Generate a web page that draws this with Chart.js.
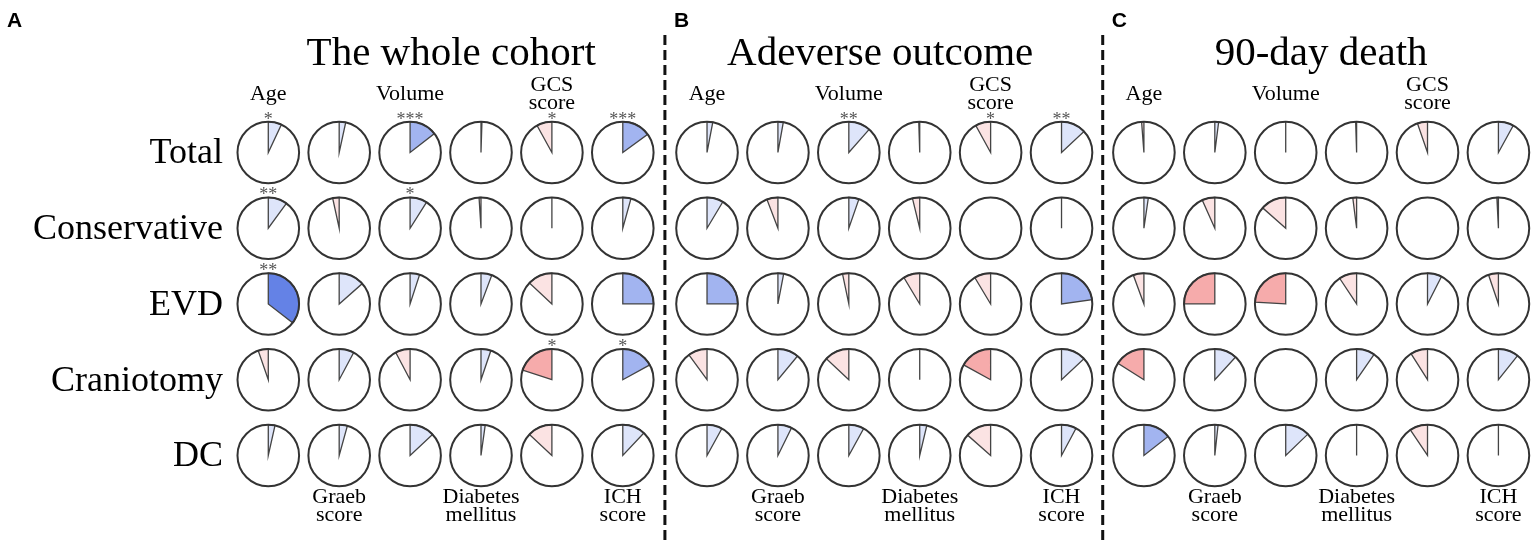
<!DOCTYPE html>
<html>
<head>
  <title>Correlation pies by surgery group</title>
  <script src="https://cdn.jsdelivr.net/npm/chart.js@4.4.0/dist/chart.umd.min.js"></script>
  <style>
    body { margin: 0; background: #fff; }
  </style>
</head>
<body>
  <canvas id="pieChart" width="1535" height="545"></canvas>

  <script>
    const rows = ['Total', 'Conservative', 'EVD', 'Craniotomy', 'DC'];
    const topLabels = [['Age'], null, ['Volume'], null, ['GCS', 'score'], null];
    const bottomLabels = [null, ['Graeb', 'score'], null, ['Diabetes', 'mellitus'], null, ['ICH', 'score']];
    const panelTitles = ['The whole cohort', 'Adeverse outcome', '90-day death'];
    const panelLetters = ['A', 'B', 'C'];

    // correlation values, rows x (Age, Graeb, Volume, Diabetes, GCS, ICH); null = not shown
    const cohortR = [
      [0.07, 0.034, 0.145, 0.005, -0.08, 0.15],
      [0.10, -0.034, 0.09, -0.01, 0, 0.043],
      [0.355, 0.135, 0.05, 0.057, -0.13, 0.25],
      [-0.053, 0.078, -0.077, 0.052, -0.2, 0.17],
      [0.035, 0.043, 0.13, 0.022, -0.13, 0.12]
    ];
    const adverseR = [
      [0.03, 0.028, 0.115, -0.005, -0.08, 0.13],
      [0.086, -0.058, 0.053, -0.038, null, 0],
      [0.25, 0.03, -0.033, -0.086, -0.086, 0.228],
      [-0.10, 0.11, -0.13, 0, -0.17, 0.13],
      [0.08, 0.073, 0.08, 0.037, -0.135, 0.078]
    ];
    const deathR = [
      [-0.012, 0.02, 0, -0.005, -0.053, 0.08],
      [0.023, -0.067, -0.135, -0.02, null, -0.008],
      [-0.056, -0.25, -0.24, -0.093, 0.075, -0.052],
      [-0.16, 0.118, null, 0.096, -0.09, 0.107],
      [0.144, 0.017, 0.128, 0, -0.094, 0]
    ];

    // number of significance stars
    const cohortSig = [
      [1, 0, 3, 0, 1, 3],
      [2, 0, 1, 0, 0, 0],
      [2, 0, 0, 0, 0, 0],
      [0, 0, 0, 0, 1, 1],
      [0, 0, 0, 0, 0, 0]
    ];
    const adverseSig = [
      [0, 0, 2, 0, 1, 2],
      [0, 0, 0, 0, 0, 0],
      [0, 0, 0, 0, 0, 0],
      [0, 0, 0, 0, 0, 0],
      [0, 0, 0, 0, 0, 0]
    ];
    const deathSig = [
      [0, 0, 0, 0, 0, 0],
      [0, 0, 0, 0, 0, 0],
      [0, 0, 0, 0, 0, 0],
      [0, 0, 0, 0, 0, 0],
      [0, 0, 0, 0, 0, 0]
    ];

    const panels = [cohortR, adverseR, deathR];
    const panelSig = [cohortSig, adverseSig, deathSig];
    const panelOffset = [0, 6.188, 12.35];   // first column of each panel on the x scale
    const titleX = [2.58, 8.63, 14.85];

    const serif = "'Liberation Serif', 'Times New Roman', serif";
    const PIE_R = 30.8;

    function pieColor(v) {
      const a = Math.abs(v);
      if (v >= 0) {
        if (a < 0.14) return '#dee5fa';
        if (a < 0.3) return '#a2b4f0';
        return '#6482e6';
      }
      if (a < 0.14) return '#fbe3e3';
      if (a < 0.3) return '#f6abab';
      return '#e86a6a';
    }

    const datasets = panels.map((mat, p) => ({
      label: panelTitles[p],
      data: mat.flatMap((row, r) => row.map((v, c) => ({
        x: panelOffset[p] + c, y: r, v: v, sig: panelSig[p][r][c]
      }))),
      pointRadius: 0,
      pointHoverRadius: 0
    }));

    const piePlugin = {
      id: 'pies',
      afterDatasetsDraw(chart) {
        const ctx = chart.ctx;
        ctx.save();
        chart.data.datasets.forEach((ds, di) => {
          chart.getDatasetMeta(di).data.forEach((pt, i) => {
            const d = ds.data[i];
            const x = pt.x, y = pt.y;
            ctx.beginPath();
            ctx.arc(x, y, PIE_R, 0, 2 * Math.PI);
            ctx.fillStyle = '#fff';
            ctx.fill();
            if (d.v !== null) {
              const start = -Math.PI / 2;
              const ang = d.v * 2 * Math.PI;
              ctx.beginPath();
              ctx.moveTo(x, y);
              if (ang >= 0) ctx.arc(x, y, PIE_R, start, start + ang);
              else ctx.arc(x, y, PIE_R, start + ang, start);
              ctx.closePath();
              ctx.fillStyle = pieColor(d.v);
              ctx.fill();
              ctx.strokeStyle = '#444';
              ctx.lineWidth = 1.3;
              ctx.stroke();
            }
            ctx.beginPath();
            ctx.arc(x, y, PIE_R, 0, 2 * Math.PI);
            ctx.strokeStyle = '#333';
            ctx.lineWidth = 2;
            ctx.stroke();
            if (d.sig > 0) {
              ctx.fillStyle = '#555';
              ctx.font = '18px ' + serif;
              ctx.textAlign = 'center';
              ctx.textBaseline = 'alphabetic';
              ctx.fillText('*'.repeat(d.sig), x, y - PIE_R + 3);
            }
          });
        });
        ctx.restore();
      },
      afterDraw(chart) {
        const ctx = chart.ctx;
        const xs = chart.scales.x, ys = chart.scales.y;
        ctx.save();
        ctx.fillStyle = '#000';

        // panel separators
        ctx.strokeStyle = '#111';
        ctx.lineWidth = 3;
        ctx.setLineDash([10, 5]);
        [1, 2].forEach(p => {
          const xv = (panelOffset[p - 1] + 5 + panelOffset[p]) / 2;
          const px = xs.getPixelForValue(xv);
          ctx.beginPath();
          ctx.moveTo(px, 35);
          ctx.lineTo(px, 545);
          ctx.stroke();
        });
        ctx.setLineDash([]);

        panels.forEach((mat, p) => {
          // letter
          ctx.font = "bold 21px 'Liberation Sans', Arial, sans-serif";
          ctx.textAlign = 'left';
          ctx.textBaseline = 'alphabetic';
          const lx = p === 0 ? 7 : xs.getPixelForValue((panelOffset[p - 1] + 5 + panelOffset[p]) / 2) + 9;
          ctx.fillText(panelLetters[p], lx, 27);

          // title
          ctx.font = '41px ' + serif;
          ctx.textAlign = 'center';
          ctx.fillText(panelTitles[p], xs.getPixelForValue(titleX[p]), 65);

          // column labels
          ctx.font = '22px ' + serif;
          for (let c = 0; c < 6; c++) {
            const cx = xs.getPixelForValue(panelOffset[p] + c);
            const t = topLabels[c];
            if (t) {
              if (t.length === 1) ctx.fillText(t[0], cx, 100);
              else { ctx.fillText(t[0], cx, 91); ctx.fillText(t[1], cx, 109); }
            }
            const b = bottomLabels[c];
            if (b) {
              ctx.fillText(b[0], cx, 503);
              ctx.fillText(b[1], cx, 521);
            }
          }
        });

        // row labels
        ctx.font = '36px ' + serif;
        ctx.textAlign = 'right';
        rows.forEach((name, r) => {
          ctx.fillText(name, 223, ys.getPixelForValue(r) + 11);
        });
        ctx.restore();
      }
    };

    const ctx = document.getElementById('pieChart').getContext('2d');
    const pieChart = new Chart(ctx, {
      type: 'scatter',
      data: { datasets: datasets },
      options: {
        responsive: false,
        animation: false,
        layout: { padding: 0 },
        plugins: { legend: { display: false }, tooltip: { enabled: false } },
        scales: {
          x: { type: 'linear', display: false, min: -3.784, max: 17.866 },
          y: { type: 'linear', display: false, reverse: true, min: -2.013, max: 5.182 }
        }
      },
      plugins: [piePlugin]
    });
  </script>
</body>
</html>
